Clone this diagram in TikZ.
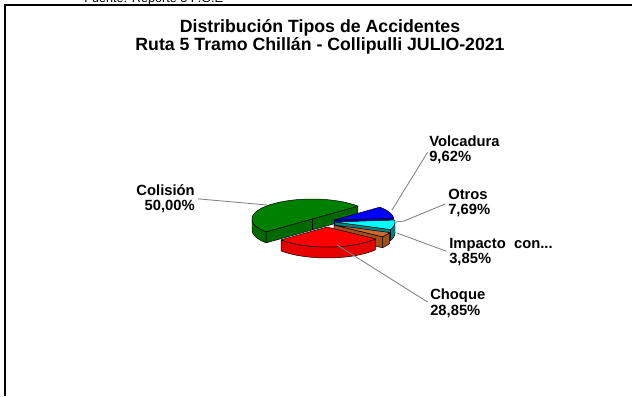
\documentclass[tikz,border=0pt]{standalone}
\usepackage{fontspec}
\setmainfont{Liberation Sans}
\usepackage{tikz}

\definecolor{grtop}{RGB}{0,128,0}
\definecolor{grside}{RGB}{0,105,0}
\definecolor{rdtop}{RGB}{255,0,0}
\definecolor{rdside}{RGB}{230,0,0}
\definecolor{bltop}{RGB}{0,0,255}
\definecolor{blside}{RGB}{0,0,170}
\definecolor{cytop}{RGB}{0,255,255}
\definecolor{cyside}{RGB}{0,128,128}
\definecolor{brtop}{RGB}{205,105,45}
\definecolor{brside}{RGB}{160,80,25}

\tikzset{
  wedge/.style={draw=black,line width=0.35pt,line join=round},
  leader/.style={draw=gray,line width=0.6pt,shorten <=2pt},
  lbl/.style={inner sep=0pt,font=\fontsize{10.5}{11}\selectfont\bfseries}
}

\begin{document}
\begin{tikzpicture}[x=0.025cm,y=-0.025cm]
\useasboundingbox (0,0) rectangle (632,396);
\clip (0,0) rectangle (632,396);
\draw[line width=1.4pt] (5,396) -- (5,5) -- (632,5);
\node[anchor=base west,inner sep=0pt,font=\fontsize{9}{9}\selectfont] (fuente) at (84,2.5) {Fuente: Reporte 3 P.G.E};
\node[align=center,inner sep=0pt,font=\fontsize{12.6}{11.5}\selectfont\bfseries] (title) at (320,36.5)
  {Distribución Tipos de Accidentes\\Ruta 5 Tramo Chillán - Collipulli JULIO-2021};

% Colision (green)
\filldraw[wedge,fill=grside] ({312+60*cos(40)},{219-20*sin(40)}) -- ({312+60*cos(220)},{219-20*sin(220)})
  -- ({312+60*cos(220)},{230-20*sin(220)}) -- ({312+60*cos(40)},{230-20*sin(40)}) -- cycle;
\draw[wedge] (312,219) -- (312,230);
\filldraw[wedge,fill=grside] plot[domain=180:220,samples=12] ({312+60*cos(\x)},{219-20*sin(\x)})
  -- plot[domain=220:180,samples=12] ({312+60*cos(\x)},{230-20*sin(\x)}) -- cycle;
\filldraw[wedge,fill=grtop] (312,219) -- plot[domain=40:220,samples=40] ({312+60*cos(\x)},{219-20*sin(\x)}) -- cycle;

% Volcadura (blue)
\filldraw[wedge,fill=blside] (334,220) -- ({334+60*cos(5.5)},{220-20*sin(5.5)})
  -- ({334+60*cos(5.5)},{231-20*sin(5.5)}) -- (334,231) -- cycle;
\filldraw[wedge,fill=bltop] (334,220) -- plot[domain=5.5:40.1,samples=12] ({334+60*cos(\x)},{220-20*sin(\x)}) -- cycle;

% Otros (cyan)
\filldraw[wedge,fill=cyside] (335,222) -- ({335+60*cos(337.8)},{222-20*sin(337.8)})
  -- ({335+60*cos(337.8)},{233-20*sin(337.8)}) -- (335,233) -- cycle;
\filldraw[wedge,fill=cyside] plot[domain=337.8:360,samples=8] ({335+60*cos(\x)},{222-20*sin(\x)})
  -- plot[domain=360:337.8,samples=8] ({335+60*cos(\x)},{233-20*sin(\x)}) -- cycle;
\filldraw[wedge,fill=cytop] (335,222) -- plot[domain=337.8:365.5,samples=10] ({335+60*cos(\x)},{222-20*sin(\x)}) -- cycle;

% Impacto con... (brown)
\filldraw[wedge,fill=brside] (334,225) -- ({334+60*cos(323.9)},{225-20*sin(323.9)})
  -- ({334+60*cos(323.9)},{236-20*sin(323.9)}) -- (334,236) -- cycle;
\filldraw[wedge,fill=brside] plot[domain=323.9:337.8,samples=6] ({334+60*cos(\x)},{225-20*sin(\x)})
  -- plot[domain=337.8:323.9,samples=6] ({334+60*cos(\x)},{236-20*sin(\x)}) -- cycle;
\filldraw[wedge,fill=brtop] (334,225) -- plot[domain=323.9:337.8,samples=6] ({334+60*cos(\x)},{225-20*sin(\x)}) -- cycle;

% Choque (red)
\filldraw[wedge,fill=rdside] plot[domain=220:323.9,samples=30] ({327+60*cos(\x)},{227-20*sin(\x)})
  -- plot[domain=323.9:220,samples=30] ({327+60*cos(\x)},{238-20*sin(\x)}) -- cycle;
\filldraw[wedge,fill=rdtop] (327,227) -- plot[domain=220:323.9,samples=30] ({327+60*cos(\x)},{227-20*sin(\x)}) -- cycle;

% labels
\node[lbl,anchor=north east,align=right] (colision) at (195,184) {Colisión\\50,00\%};
\node[lbl,anchor=north west,align=left] (volcadura) at (429,135.5) {Volcadura\\9,62\%};
\node[lbl,anchor=north west,align=left] (otros) at (448,188.5) {Otros\\7,69\%};
\node[lbl,anchor=north west,align=left] (impacto) at (449,238) {Impacto~~con...\\3,85\%};
\node[lbl,anchor=north west,align=left] (choque) at (430,289) {Choque\\28,85\%};

\coordinate (pcol) at (267,205);
\coordinate (pvol) at (392,210);
\coordinate (kotr) at (404,221);
\coordinate (potr) at (396,222);
\coordinate (pimp) at (397,233);
\coordinate (pcho) at (337,245);

\draw[leader] (colision.east) -- (pcol);
\draw[leader] (volcadura.west) -- (pvol);
\draw[leader] (otros.west) -- (kotr) -- (potr);
\draw[leader] (impacto.west) -- (pimp);
\draw[leader] (choque.west) -- (pcho);
\end{tikzpicture}
\end{document}
